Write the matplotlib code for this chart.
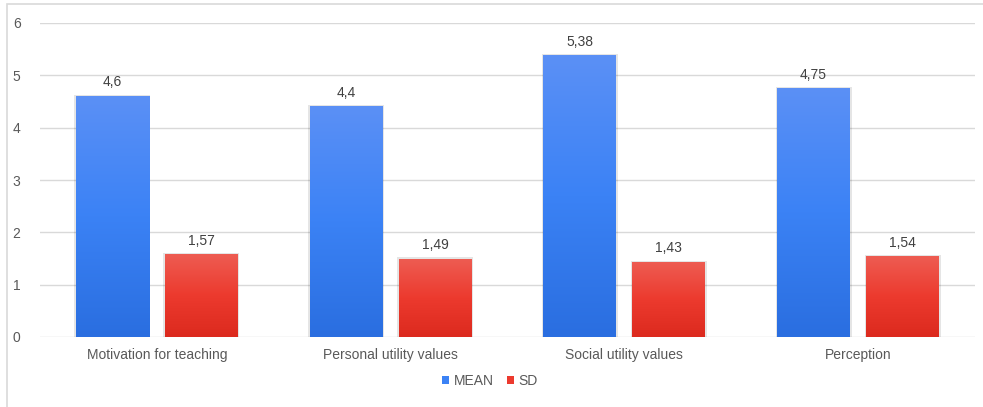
import numpy as np
import matplotlib
matplotlib.use("Agg")
import matplotlib.pyplot as plt
from matplotlib.colors import LinearSegmentedColormap
from matplotlib.patches import Rectangle, Patch

categories = ["Motivation for teaching", "Personal utility values",
              "Social utility values", "Perception"]
mean_values = [4.6, 4.4, 5.38, 4.75]
sd_values = [1.57, 1.49, 1.43, 1.54]
mean_labels = ["4,6", "4,4", "5,38", "4,75"]
sd_labels = ["1,57", "1,49", "1,43", "1,54"]
y_ticks = [0, 1, 2, 3, 4, 5, 6]

plt.rcParams["font.family"] = ["Liberation Sans", "DejaVu Sans"]
text_color = "#595959"
grid_color = "#d9d9d9"

fig = plt.figure(figsize=(9.83, 4.07), dpi=100)
ax = fig.add_axes([40 / 983, 70 / 407, 935 / 983, 314 / 407])

blue_cmap = LinearSegmentedColormap.from_list("blue", ["#2a6ee0", "#3b82f5", "#5b90f6"])
red_cmap = LinearSegmentedColormap.from_list("red", ["#dc2a1e", "#ec3a2e", "#ee5c52"])

x = np.arange(len(categories))
bar_w = 73 / 233.75
gap = 16 / 233.75
px = 1 / 233.75  # one pixel in data units along x
grad = np.linspace(0, 1, 256).reshape(-1, 1)


def gradient_bar(xc, h, cmap):
    left = xc - bar_w / 2
    # faint halo around the bar
    ax.add_patch(Rectangle((left - 1.5 * px, 0), bar_w + 3 * px, h + 0.03,
                           facecolor="#000000", alpha=0.10, edgecolor="none",
                           zorder=2))
    ax.imshow(grad, cmap=cmap, origin="lower", aspect="auto",
              extent=(left, left + bar_w, 0, h), zorder=3)


for i in range(len(categories)):
    xb = x[i] - (bar_w + gap) / 2
    xr = x[i] + (bar_w + gap) / 2
    gradient_bar(xb, mean_values[i], blue_cmap)
    gradient_bar(xr, sd_values[i], red_cmap)
    ax.text(xb, mean_values[i] + 0.13, mean_labels[i], ha="center", va="bottom",
            fontsize=10, color="#404040")
    ax.text(xr, sd_values[i] + 0.13, sd_labels[i], ha="center", va="bottom",
            fontsize=10, color="#404040")

ax.set_xlim(-0.5, len(categories) - 0.5)
ax.set_ylim(0, 6)
ax.set_yticks(y_ticks)
ax.set_yticklabels([str(t) for t in y_ticks])
ax.set_xticks(x)
ax.set_xticklabels(categories)
ax.tick_params(axis="both", length=0, labelsize=10, colors=text_color)
ax.tick_params(axis="y", pad=14)
ax.tick_params(axis="x", pad=8)
ax.yaxis.grid(True, color=grid_color, linewidth=1)
ax.set_axisbelow(True)
for s in ax.spines.values():
    s.set_visible(False)

handles = [Patch(facecolor="#3b82f5", label="MEAN"),
           Patch(facecolor="#ec3a2e", label="SD")]
fig.legend(handles=handles, loc="center", bbox_to_anchor=(490 / 983, 1 - 381 / 407),
           ncol=2, frameon=False, fontsize=10, handlelength=0.5, handleheight=0.5,
           handletextpad=0.3, columnspacing=1.0, labelcolor=text_color)

# outer frame: left and top edges visible, right and bottom run off the canvas
fig.patches.append(Rectangle((7 / 983, -10 / 407), 990 / 983, 413 / 407,
                             transform=fig.transFigure, fill=False,
                             edgecolor="#d9d9d9", linewidth=1.2))

fig.savefig("out.png", dpi=100)
